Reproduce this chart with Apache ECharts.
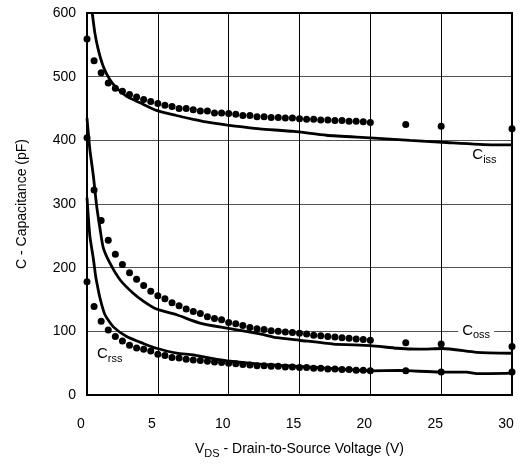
<!DOCTYPE html>
<html>
<head>
<meta charset="utf-8">
<script src="https://cdn.jsdelivr.net/npm/echarts@6/dist/echarts.min.js"></script>
<style>html,body{margin:0;padding:0;background:#fff;}#c{width:522px;height:464px;}</style>
</head>
<body>
<div id="c"></div>
<script>
// Measured voltages of the dot markers (V)
const dotV = [0,0.5,1,1.5,2,2.5,3,3.5,4,4.5,5,5.5,6,6.5,7,7.5,8,8.5,9,9.5,10,10.5,11,11.5,12,12.5,13,13.5,14,14.5,15,15.5,16,16.5,17,17.5,18,18.5,19,19.5,20,22.5,25,30];
const cissDots = [559,525,506,490,482,477,472,468,464,461,458,455,453,450,450,448,446,446,443,443,442,441,439,439,437,437,436,436,435,435,434,433,433,432,432,431,431,430,430,429,428,425,422,418];
const cossDots = [404,322,274,243,221,205,192,182,172,163,156,151,145,140,135,131,128,123,120,118,114,112,109,106,104,103,101,100,99,98,97,96,94,93,92,91,90,89,88,87,86,82,80,76];
const crssDots = [178,139,116,102,92,85,78,74,72,69,64,62,59,58,56,55,54,53,52,51,50,49,48,47,46,46,45,45,44,44,43,43,42,42,41,41,40,40,39,39,38,38,36,36];

// Solid curves: [V, pF]
const cissLine = [[0.37,600],[0.56,568],[0.8,542],[1.15,516],[1.62,495],[2.1,482],[2.8,469],[3.74,459],[4.9,447],[6.3,439],[7.5,433],[8.4,429],[9.9,424],[11,421],[12.2,418],[14.6,414],[16.9,408],[20,404],[22.8,400],[25.1,397],[28.7,393],[30,393]];
const cossLine = [[0,435],[0.2,386],[0.45,344],[0.68,297],[0.92,261],[1.15,231],[1.62,207],[2.33,181],[3.2,161],[4.0,147],[4.9,135],[6.33,126],[7.97,113],[9.86,105],[12.2,96],[13.4,90],[15,86],[17.4,80],[20,77.6],[21.9,73.4],[23.5,72],[25.1,73],[27.5,67],[30,65.6]];
const crssLine = [[0,310],[0.2,250],[0.45,214],[0.6,188],[0.68,178],[0.92,152],[1.27,126],[1.86,107],[2.8,92],[3.97,81],[4.9,73.4],[6.33,65.6],[7.5,63],[8.7,58],[10.1,53],[12.2,48.5],[15,45],[20,38],[22,38.6],[24.9,36],[26.8,36],[27.5,33.5],[30,34.4]];

const xTicks = {min:0, max:30, interval:5};
const yTicks = {min:0, max:600, interval:100};

const FONT = '"Liberation Sans", Arial, sans-serif';
const pair = (xs, ys) => xs.map((x,i)=>[x, ys[i]]);

const chart = echarts.init(document.getElementById('c'), null, {renderer:'canvas'});
const lineStyle = {color:'#000', width:2.8};
const dotSeries = (name, ys) => ({
  name, type:'scatter', data: pair(dotV, ys), symbol:'circle', symbolSize:7,
  itemStyle:{color:'#000', opacity:1}, z:3, clip:false, silent:true
});
const lineSeries = (name, d) => ({
  name, type:'line', data:d, showSymbol:false, smooth:0.2, lineStyle, z:2, clip:true, silent:true
});

chart.setOption({
  animation:false,
  backgroundColor:'#fff',
  textStyle:{fontFamily:FONT},
  grid:{left:87, right:10, top:13, bottom:67},
  xAxis:[{
    type:'value', min:xTicks.min, max:xTicks.max, interval:xTicks.interval,
    axisLine:{show:true, onZero:false, lineStyle:{color:'#000', width:2}},
    axisTick:{show:false},
    splitLine:{show:true, lineStyle:{color:'#000', width:1}},
    axisLabel:{color:'#000', fontSize:14, fontFamily:FONT, margin:22, padding:[0,12,0,0]},
    name:'{v|V}{s|DS}{v| - Drain-to-Source Voltage (V)}',
    nameLocation:'middle', nameGap:45,
    nameTextStyle:{color:'#000', fontFamily:FONT, rich:{
      v:{fontSize:14, color:'#000', fontFamily:FONT},
      s:{fontSize:11, color:'#000', fontFamily:FONT, padding:[8,0,0,0]}
    }}
  },{
    type:'value', position:'top', min:xTicks.min, max:xTicks.max, interval:xTicks.interval,
    axisLine:{show:true, onZero:false, lineStyle:{color:'#000', width:2}},
    axisTick:{show:false}, axisLabel:{show:false}, splitLine:{show:false}
  }],
  yAxis:[{
    type:'value', min:yTicks.min, max:yTicks.max, interval:yTicks.interval,
    axisLine:{show:true, onZero:false, lineStyle:{color:'#000', width:2}},
    axisTick:{show:false},
    splitLine:{show:true, lineStyle:{color:'#555', width:1}},
    axisLabel:{color:'#000', fontSize:14, fontFamily:FONT, margin:11, padding:[6,0,0,0]},
    name:'C - Capacitance (pF)', nameLocation:'middle', nameGap:58, nameRotate:90,
    nameTextStyle:{color:'#000', fontSize:14, fontFamily:FONT}
  },{
    type:'value', position:'right', min:yTicks.min, max:yTicks.max, interval:yTicks.interval,
    axisLine:{show:true, onZero:false, lineStyle:{color:'#000', width:2}},
    axisTick:{show:false}, axisLabel:{show:false}, splitLine:{show:false}
  }],
  series:[
    lineSeries('Ciss line', cissLine),
    lineSeries('Coss line', cossLine),
    lineSeries('Crss line', crssLine),
    dotSeries('Ciss', cissDots),
    dotSeries('Coss', cossDots),
    dotSeries('Crss', crssDots)
  ]
});

function label(sub, v, c, bg) {
  const p = chart.convertToPixel({gridIndex:0}, [v, c]);
  return {
    type:'text', x:p[0], y:p[1], z:100,
    style:{
      text:'{a|C}{b|' + sub + '}',
      backgroundColor: bg ? '#fff' : null,
      padding: bg ? [0,4,0,4] : 0,
      verticalAlign:'middle', align:'left',
      rich:{
        a:{fontSize:15, fontFamily:FONT, fill:'#000', color:'#000'},
        b:{fontSize:11, fontFamily:FONT, fill:'#000', color:'#000', padding:[9,0,0,0]}
      }
    }
  };
}
chart.setOption({graphic:[
  label('iss', 27.2, 377, false),
  label('oss', 26.2, 101, true),
  label('rss', 0.7, 64, false)
]});
</script>
</body>
</html>
